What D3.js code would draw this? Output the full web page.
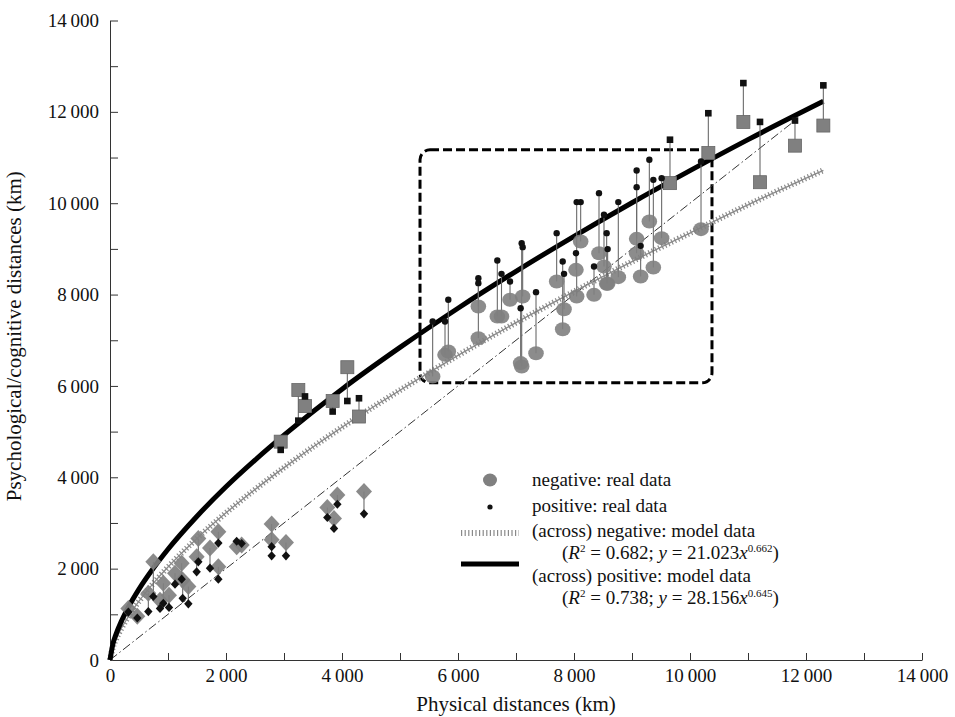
<!DOCTYPE html>
<html>
<head>
<meta charset="utf-8">
<script src="https://cdn.jsdelivr.net/npm/d3@7"></script>
<style>
  body { margin: 0; background: #fff; }
  svg { display: block; font-family: "Liberation Serif", "DejaVu Serif", serif; }
</style>
</head>
<body>
<div id="chart"></div>
<script>
// lower group (diamonds): physical distance, negative value, positive value
const diamondX   = [316, 471, 747, 661, 920, 862, 1017, 1121, 1236, 1253, 1351, 1523, 1494, 1724, 1868, 1868, 2184, 2270, 2787, 2787, 3034, 3920, 3747, 3862, 4379];
const diamondNeg = [1130, 960, 2150, 1460, 1680, 1310, 1420, 1900, 2120, 1750, 1610, 2660, 2260, 2450, 2810, 2040, 2480, 2520, 2980, 2630, 2570, 3610, 3340, 3100, 3690];
const diamondPos = [1050, 920, 1390, 1060, 1240, 1130, 1150, 1660, 1770, 1350, 1230, 2150, 1930, 2010, 2560, 1770, 2600, 2550, 2480, 2280, 2280, 3410, 3120, 2880, 3200];

// upper groups (squares)
const squareX   = [2943, 3247, 3362, 3839, 4092, 4293, 9655, 10316, 10920, 11207, 11810, 12299];
const squareNeg = [4780, 5910, 5560, 5670, 6410, 5330, 10440, 11100, 11780, 10460, 11260, 11700];
const squarePos = [4600, 5240, 5770, 5440, 5670, 5730, 11390, 11970, 12630, 11780, 11810, 12580];

// boxed group (circles)
const circleX   = [5563, 5776, 5833, 6351, 6351, 6678, 6750, 6897, 7098, 7115, 7080, 7345, 7701, 7805, 7828, 8034, 8046, 8115, 8345, 8431, 8517, 8563, 8580, 8764, 9080, 9080, 9149, 9299, 9368, 9511, 10190];
const circleNeg = [6205, 6680, 6753, 7045, 7738, 7519, 7519, 7885, 6424, 7958, 6500, 6717, 8286, 7242, 7680, 8541, 7958, 9161, 7994, 8906, 8614, 8235, 8235, 8381, 8906, 9220, 8395, 9600, 8593, 9235, 9432];
const circlePos = [7409, 7409, 7885, 8250, 8360, 8745, 8454, 8286, 9125, 9038, 7700, 8053, 9345, 8724, 8454, 8906, 10024, 10024, 8614, 10220, 9746, 9345, 8995, 10024, 10352, 10717, 9067, 10950, 10512, 10549, 10913];

// model curves
const curveX   = [0, 50, 100, 200, 300, 500, 750, 1000, 1500, 2000, 2500, 3000, 4000, 5000, 6000, 7000, 8000, 9000, 10000, 11000, 12300];
const curvePos = [0, 351, 549, 858, 1115, 1551, 2013, 2425, 3148, 3792, 4376, 4922, 5929, 6843, 7701, 8509, 9275, 10010, 10713, 11392, 12231];
const curveNeg = [0, 280, 443, 701, 917, 1287, 1682, 2035, 2662, 3221, 3732, 4211, 5096, 5905, 6668, 7385, 8064, 8722, 9347, 9965, 10720];

// y = x reference line and highlighted box (data units)
const diagX = [0, 11800];
const boxX = [5345, 10379];
const boxY = [6067, 11169];

const width = 955, height = 717;
const margin = { top: 20.5, right: 33, bottom: 57, left: 110 };

const svg = d3.select('#chart').append('svg')
  .attr('width', width)
  .attr('height', height);

const x = d3.scaleLinear().domain([0, 14000]).range([margin.left, width - margin.right]);
const y = d3.scaleLinear().domain([0, 14000]).range([height - margin.bottom, margin.top]);

const locale = d3.formatLocale({ decimal: '.', thousands: '\u2009', grouping: [3], currency: ['', ''] });
const fmt = locale.format(',');

// axes
const xAxis = svg.append('g')
  .attr('transform', `translate(0,${y(0)})`)
  .call(d3.axisBottom(x)
    .tickValues(d3.range(0, 14001, 1000))
    .tickSize(-7).tickSizeOuter(0).tickPadding(9)
    .tickFormat(d => d % 2000 === 0 ? fmt(d) : ''));

const yAxis = svg.append('g')
  .attr('transform', `translate(${x(0)},0)`)
  .call(d3.axisLeft(y)
    .tickValues(d3.range(0, 14001, 1000))
    .tickSize(-8).tickSizeOuter(0).tickPadding(11)
    .tickFormat(d => d % 2000 === 0 ? fmt(d) : ''));

[xAxis, yAxis].forEach(g => {
  g.selectAll('path, line').attr('stroke', '#333');
  g.selectAll('text').attr('font-size', 19).attr('fill', '#111')
    .attr('font-family', '"Liberation Serif", serif');
});

svg.append('text')
  .attr('x', (x(0) + x(14000)) / 2)
  .attr('y', 711)
  .attr('text-anchor', 'middle')
  .attr('font-size', 21)
  .attr('fill', '#111')
  .text('Physical distances (km)');

svg.append('text')
  .attr('transform', `translate(21,${(y(0) + y(14000)) / 2 - 4}) rotate(-90)`)
  .attr('text-anchor', 'middle')
  .attr('font-size', 21)
  .attr('fill', '#111')
  .text('Psychological/cognitive distances (km)');

// dashed box
svg.append('rect')
  .attr('x', x(boxX[0]))
  .attr('y', y(boxY[1]))
  .attr('width', x(boxX[1]) - x(boxX[0]))
  .attr('height', y(boxY[0]) - y(boxY[1]))
  .attr('rx', 10).attr('ry', 10)
  .attr('fill', 'none')
  .attr('stroke', '#000')
  .attr('stroke-width', 3)
  .attr('stroke-dasharray', '9,4');

// y = x dash-dot line
svg.append('line')
  .attr('x1', x(diagX[0])).attr('y1', y(diagX[0]))
  .attr('x2', x(diagX[1])).attr('y2', y(diagX[1]))
  .attr('stroke', '#333')
  .attr('stroke-width', 1)
  .attr('stroke-dasharray', '9,3,1.5,3');

const line = d3.line().curve(d3.curveMonotoneX);
const negPts = curveX.map((v, i) => [x(v), y(curveNeg[i])]);
const posPts = curveX.map((v, i) => [x(v), y(curvePos[i])]);

// negative model: hatched gray line
svg.append('path').attr('d', line(negPts))
  .attr('fill', 'none').attr('stroke', '#8a8a8a')
  .attr('stroke-width', 6).attr('stroke-dasharray', '1.2,2.4');
svg.append('path').attr('d', line(negPts))
  .attr('fill', 'none').attr('stroke', '#8a8a8a').attr('stroke-width', 1.3);

// positive model: thick black line
svg.append('path').attr('d', line(posPts))
  .attr('fill', 'none').attr('stroke', '#000').attr('stroke-width', 5);

// paired data
const groups = [
  { xs: diamondX, neg: diamondNeg, pos: diamondPos, shape: 'diamond' },
  { xs: squareX, neg: squareNeg, pos: squarePos, shape: 'square' },
  { xs: circleX, neg: circleNeg, pos: circlePos, shape: 'circle' }
];

const diamondPath = (w, h) => `M0,${-h}L${w},0L0,${h}L${-w},0Z`;

groups.forEach(g => {
  const rows = g.xs.map((v, i) => ({ x: v, neg: g.neg[i], pos: g.pos[i] }));
  svg.append('g').selectAll('line')
    .data(rows).enter().append('line')
    .attr('x1', d => x(d.x)).attr('x2', d => x(d.x))
    .attr('y1', d => y(d.neg)).attr('y2', d => y(d.pos))
    .attr('stroke', '#6a6a6a').attr('stroke-width', 1.1);
});

groups.forEach(g => {
  const rows = g.xs.map((v, i) => ({ x: v, neg: g.neg[i], pos: g.pos[i] }));
  const gg = svg.append('g');
  if (g.shape === 'circle') {
    gg.selectAll('ellipse').data(rows).enter().append('ellipse')
      .attr('cx', d => x(d.x)).attr('cy', d => y(d.neg))
      .attr('rx', 7.8).attr('ry', 7)
      .attr('fill', '#808080').attr('fill-opacity', 0.9);
  } else if (g.shape === 'square') {
    gg.selectAll('rect').data(rows).enter().append('rect')
      .attr('x', d => x(d.x) - 6.5).attr('y', d => y(d.neg) - 6.5)
      .attr('width', 13).attr('height', 13)
      .attr('fill', '#808080').attr('stroke', '#666').attr('stroke-width', 0.8);
  } else {
    gg.selectAll('path').data(rows).enter().append('path')
      .attr('transform', d => `translate(${x(d.x)},${y(d.neg)})`)
      .attr('d', diamondPath(8, 8.5))
      .attr('fill', '#808080').attr('fill-opacity', 0.92);
  }
});

groups.forEach(g => {
  const rows = g.xs.map((v, i) => ({ x: v, pos: g.pos[i] }));
  const gg = svg.append('g');
  if (g.shape === 'circle') {
    gg.selectAll('circle').data(rows).enter().append('circle')
      .attr('cx', d => x(d.x)).attr('cy', d => y(d.pos))
      .attr('r', 3.2).attr('fill', '#111');
  } else if (g.shape === 'square') {
    gg.selectAll('rect').data(rows).enter().append('rect')
      .attr('x', d => x(d.x) - 3.3).attr('y', d => y(d.pos) - 3.3)
      .attr('width', 6.6).attr('height', 6.6).attr('fill', '#111');
  } else {
    gg.selectAll('path').data(rows).enter().append('path')
      .attr('transform', d => `translate(${x(d.x)},${y(d.pos)})`)
      .attr('d', diamondPath(4.2, 4.6)).attr('fill', '#111');
  }
});

// legend
const legend = svg.append('g').attr('font-size', 19).attr('fill', '#111');
const symX = 490, textX = 532;

legend.append('ellipse').attr('cx', symX).attr('cy', 480).attr('rx', 7).attr('ry', 6.5).attr('fill', '#808080');
legend.append('text').attr('x', textX).attr('y', 486).text('negative: real data');

legend.append('circle').attr('cx', symX).attr('cy', 507).attr('r', 2.6).attr('fill', '#111');
legend.append('text').attr('x', textX).attr('y', 512).text('positive: real data');

legend.append('line').attr('x1', 461).attr('x2', 519).attr('y1', 533).attr('y2', 533)
  .attr('stroke', '#8a8a8a').attr('stroke-width', 6).attr('stroke-dasharray', '1.2,2.4');
legend.append('text').attr('x', textX).attr('y', 537).text('(across) negative: model data');

const eq = (yy, r2, a, b) => {
  const t = legend.append('text').attr('x', 562).attr('y', yy);
  t.append('tspan').text('(');
  t.append('tspan').attr('font-style', 'italic').text('R');
  t.append('tspan').attr('font-size', 11).attr('dy', -7).text('2');
  t.append('tspan').attr('dy', 7).text(` = ${r2}; `);
  t.append('tspan').attr('font-style', 'italic').text('y');
  t.append('tspan').text(` = ${a}`);
  t.append('tspan').attr('font-style', 'italic').text('x');
  t.append('tspan').attr('font-size', 11).attr('dy', -7).text(b);
  t.append('tspan').attr('dy', 7).text(')');
};
eq(559, '0.682', '21.023', '0.662');

legend.append('line').attr('x1', 461).attr('x2', 519).attr('y1', 564).attr('y2', 564)
  .attr('stroke', '#000').attr('stroke-width', 5);
legend.append('text').attr('x', textX).attr('y', 582).text('(across) positive: model data');
eq(604, '0.738', '28.156', '0.645');
</script>
</body>
</html>
